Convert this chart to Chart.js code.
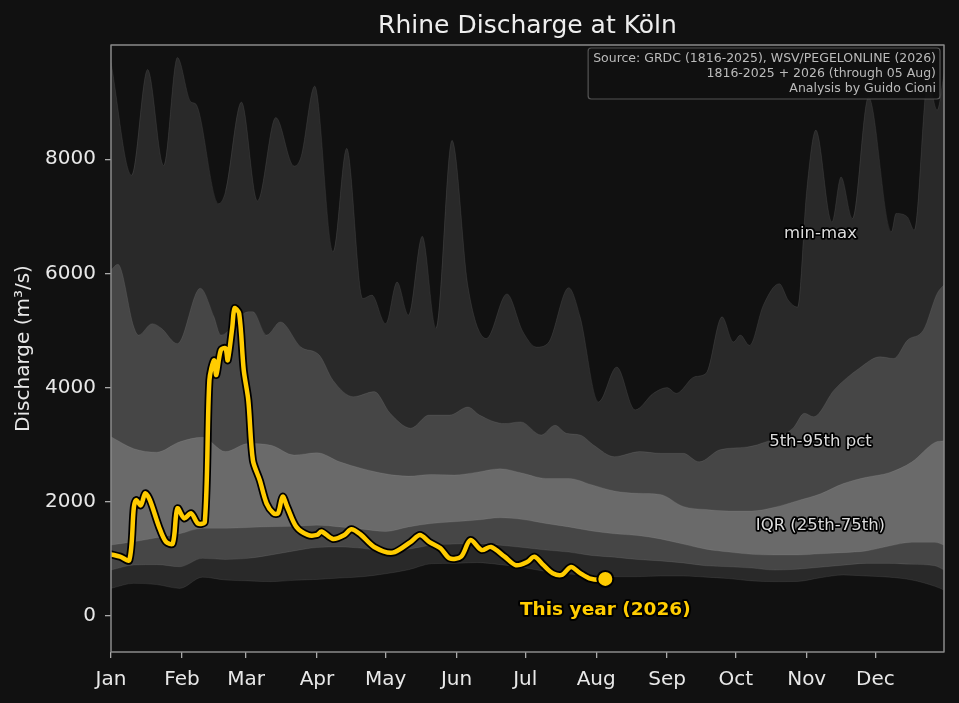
<!DOCTYPE html>
<html>
<head>
<meta charset="utf-8">
<title>Rhine Discharge at Köln</title>
<script src="https://cdn.jsdelivr.net/npm/chart.js@4.4.1/dist/chart.umd.min.js"></script>
<style>
    html, body { margin: 0; padding: 0; background: #111111; }
    #wrap { width: 959px; height: 703px; }
</style>
</head>
<body>
<div id="wrap"><canvas id="chart" width="959" height="703"></canvas></div>
<script>
(function () {
    'use strict';

    // Day of year for the smooth percentile bands
    var bandDays = [1, 11, 21, 31, 41, 51, 61, 71, 81, 91, 101, 111, 121, 131, 141, 151, 161, 171, 181, 191,
        201, 211, 221, 231, 241, 251, 261, 271, 281, 291, 301, 311, 321, 331, 341, 351, 361, 365];
    var p75Vals = [3140, 2930, 2870, 3050, 3130, 2880, 3020, 2990, 2820, 2860, 2700, 2580, 2490, 2450, 2480, 2470, 2520, 2580, 2500, 2410,
        2410, 2300, 2190, 2150, 2130, 1920, 1865, 1840, 1840, 1905, 2020, 2140, 2320, 2430, 2510, 2700, 3040, 3070];
    var p25Vals = [1243, 1300, 1370, 1440, 1535, 1535, 1550, 1564, 1570, 1590, 1560, 1520, 1480, 1560, 1620, 1650, 1680, 1720, 1690, 1620,
        1560, 1490, 1440, 1410, 1350, 1260, 1170, 1120, 1080, 1068, 1068, 1090, 1110, 1140, 1225, 1290, 1290, 1243];
    var p5Vals = [805, 893, 900, 863, 1010, 990, 1010, 1070, 1140, 1200, 1210, 1185, 1126, 1170, 1240, 1260, 1272, 1240, 1200, 1155,
        1120, 1060, 1030, 990, 965, 930, 880, 863, 840, 805, 820, 855, 890, 922, 922, 905, 880, 805];
    var minVals = [484, 572, 550, 484, 680, 630, 615, 601, 625, 640, 665, 688, 740, 810, 915, 922, 935, 900, 850, 780,
        735, 710, 688, 688, 700, 700, 680, 655, 615, 601, 605, 670, 718, 700, 680, 630, 520, 455];

    // 95th percentile (spikier, own sampling)
    var p95Days = [1, 4, 11, 13, 19, 23, 30, 40, 46, 49, 61, 63, 69, 75, 84, 92, 98, 107, 116, 123,
        132, 140, 149, 157, 162, 173, 180, 189, 195, 200, 206, 212, 221, 232, 241, 251, 258, 267, 279, 285,
        299, 304, 308, 317, 328, 337, 343, 349, 356, 362, 365];
    var p95Vals = [6060, 6160, 5060, 4920, 5120, 5040, 4770, 5740, 5240, 4920, 5330, 5330, 4920, 5150, 4710, 4570, 4130, 3840, 3930, 3550,
        3290, 3520, 3520, 3660, 3520, 3370, 3400, 3170, 3340, 3200, 3170, 2990, 2790, 2880, 2850, 2850, 2700, 2910, 2960, 3020,
        3290, 3550, 3490, 3960, 4340, 4540, 4510, 4830, 5010, 5650, 5800];

    // Daily maximum 1816-2025
    var maxDays = [1, 10, 17, 24, 30, 36, 38, 48, 51, 58, 65, 73, 81, 84, 90, 98, 104, 111, 115, 121,
        126, 131, 137, 143, 150, 157, 165, 174, 181, 187, 192, 201, 206, 214, 222, 230, 238, 244, 248, 256,
        261, 268, 273, 276, 280, 286, 293, 297, 301, 305, 309, 316, 320, 325, 332, 342, 344, 349, 352, 358,
        362, 365];
    var maxVals = [9700, 7720, 9570, 7890, 9780, 9000, 8970, 7220, 7430, 9000, 7270, 8730, 7880, 8040, 9280, 6380, 8190, 5560, 5620, 5120,
        5850, 5270, 6650, 5040, 8330, 5770, 4860, 5640, 4980, 4710, 4780, 5750, 5240, 3750, 4360, 3610, 3900, 4000, 3900, 4190,
        4250, 5240, 4800, 4920, 4740, 5440, 5820, 5530, 5410, 7460, 8510, 6900, 7690, 6960, 9090, 6730, 7050, 6990, 6760, 9400,
        8860, 9500];

    // This year (2026), through 05 Aug
    var yearDays = [1, 5, 9, 11, 12, 14, 16, 18, 22, 25, 28, 30, 33, 36, 39, 42, 44, 46, 47, 49,
        51, 52, 54, 55, 57, 59, 61, 63, 66, 69, 72, 74, 76, 78, 82, 87, 91, 93, 98, 103,
        106, 110, 116, 124, 132, 136, 140, 145, 149, 154, 158, 163, 167, 173, 178, 183, 186, 190, 194, 198,
        202, 206, 210, 215, 217];
    var yearVals = [1080, 1040, 980, 1910, 2030, 1940, 2150, 2030, 1560, 1300, 1270, 1885, 1710, 1800, 1620, 1650, 4130, 4480, 4220, 4660,
        4690, 4480, 5060, 5390, 5300, 4310, 3780, 2730, 2380, 1970, 1800, 1800, 2090, 1910, 1560, 1420, 1420, 1480, 1350, 1420,
        1520, 1430, 1210, 1110, 1300, 1420, 1300, 1185, 1010, 1040, 1330, 1155, 1210, 1040, 890, 950, 1040, 890, 750, 720,
        860, 750, 660, 630, 650];

    var monthDays = [1, 32, 60, 91, 121, 152, 182, 213, 244, 274, 305, 335];
    var monthLabels = ['Jan', 'Feb', 'Mar', 'Apr', 'May', 'Jun', 'Jul', 'Aug', 'Sep', 'Oct', 'Nov', 'Dec'];
    var yTicks = [0, 2000, 4000, 6000, 8000];

    var sourceLines = [
        'Source: GRDC (1816-2025), WSV/PEGELONLINE (2026)',
        '1816-2025 + 2026 (through 05 Aug)',
        'Analysis by Guido Cioni'
    ];
    // band annotations, placed in data units
    var bandLabels = [
        { text: 'min-max', day: 311, value: 6700 },
        { text: '5th-95th pct', day: 311, value: 3060 },
        { text: 'IQR (25th-75th)', day: 311, value: 1590 }
    ];

    var YELLOW = '#FFCC00';
    var TEXT = '#e8e8e8';
    var FONT = "'DejaVu Sans', sans-serif";

    function toXY(days, vals) {
        return days.map(function (d, i) { return { x: d, y: vals[i] }; });
    }

    function band(data, fill, bg, order) {
        return {
            data: data,
            fill: fill,
            backgroundColor: bg,
            borderColor: 'rgba(255, 255, 255, 0.07)',
            borderWidth: 1,
            pointRadius: 0,
            cubicInterpolationMode: 'monotone',
            order: order,
        };
    }

    var lastDay = yearDays[yearDays.length - 1];
    var lastVal = yearVals[yearVals.length - 1];

    // Title, annotations, frame and source box
    var decorPlugin = {
        id: 'decor',
        afterDatasetsDraw: function (chart) {
            var ctx = chart.ctx;
            var area = chart.chartArea;
            var xs = chart.scales.x;
            var ys = chart.scales.y;

            ctx.save();
            ctx.lineJoin = 'round';
            ctx.textAlign = 'center';
            ctx.textBaseline = 'middle';

            // band labels
            ctx.font = '16.5px ' + FONT;
            ctx.lineWidth = 3.5;
            ctx.strokeStyle = '#000';
            ctx.fillStyle = '#dddddd';
            bandLabels.forEach(function (b) {
                var px = xs.getPixelForValue(b.day);
                var py = ys.getPixelForValue(b.value);
                ctx.strokeText(b.text, px, py);
                ctx.fillText(b.text, px, py);
            });

            // this-year label under the last point
            ctx.font = 'bold 18.5px ' + FONT;
            ctx.lineWidth = 4;
            var lx = xs.getPixelForValue(lastDay);
            var ly = ys.getPixelForValue(lastVal) + 31;
            ctx.strokeText('This year (2026)', lx, ly);
            ctx.fillStyle = YELLOW;
            ctx.fillText('This year (2026)', lx, ly);

            // axes frame
            ctx.strokeStyle = '#8a8a8a';
            ctx.lineWidth = 1.5;
            ctx.strokeRect(area.left, area.top, area.right - area.left, area.bottom - area.top);

            // source box
            ctx.font = '12.5px ' + FONT;
            var w = 0;
            sourceLines.forEach(function (s) { w = Math.max(w, ctx.measureText(s).width); });
            var right = area.right - 4;
            var top = area.top + 3;
            var boxW = w + 9;
            var boxH = sourceLines.length * 15 + 6;
            ctx.beginPath();
            ctx.roundRect(right - boxW, top, boxW, boxH, 3);
            ctx.fillStyle = 'rgba(17, 17, 17, 0.9)';
            ctx.fill();
            ctx.strokeStyle = '#555555';
            ctx.lineWidth = 1.2;
            ctx.stroke();
            ctx.fillStyle = '#bbbbbb';
            ctx.textAlign = 'right';
            sourceLines.forEach(function (s, i) {
                ctx.fillText(s, right - 4, top + 10.5 + i * 15);
            });

            // title centred over the plot area
            ctx.font = '25px ' + FONT;
            ctx.fillStyle = '#eeeeee';
            ctx.textAlign = 'center';
            ctx.fillText('Rhine Discharge at Köln', (area.left + area.right) / 2, 26);
            ctx.restore();
        }
    };

    Chart.defaults.font.family = FONT;

    new Chart(document.getElementById('chart'), {
        type: 'line',
        data: {
            datasets: [
                band(toXY(maxDays, maxVals), 1, '#292929', 9),
                band(toXY(bandDays, minVals), false, 'transparent', 8),
                band(toXY(p95Days, p95Vals), 3, '#464646', 7),
                band(toXY(bandDays, p5Vals), false, 'transparent', 6),
                band(toXY(bandDays, p75Vals), 5, '#6a6a6a', 5),
                band(toXY(bandDays, p25Vals), false, 'transparent', 4),
                {
                    data: toXY(yearDays, yearVals),
                    borderColor: '#000000',
                    borderWidth: 8,
                    borderJoinStyle: 'round',
                    borderCapStyle: 'round',
                    pointRadius: 0,
                    fill: false,
                    tension: 0.3,
                    order: 2,
                },
                {
                    data: toXY(yearDays, yearVals),
                    borderColor: YELLOW,
                    borderWidth: 4.5,
                    borderJoinStyle: 'round',
                    borderCapStyle: 'round',
                    pointRadius: 0,
                    fill: false,
                    tension: 0.3,
                    order: 1,
                },
                {
                    data: [{ x: lastDay, y: lastVal }],
                    showLine: false,
                    pointRadius: 8,
                    pointBackgroundColor: YELLOW,
                    pointBorderColor: '#000000',
                    pointBorderWidth: 2,
                    order: 0,
                },
            ],
        },
        options: {
            responsive: false,
            animation: false,
            layout: { padding: { top: 45, right: 15, left: 0, bottom: 0 } },
            plugins: {
                legend: { display: false },
                tooltip: { enabled: false },
                title: { display: false },
            },
            scales: {
                x: {
                    type: 'linear',
                    min: 1,
                    max: 365,
                    afterFit: function (s) { s.height = 51; },
                    afterBuildTicks: function (s) {
                        s.ticks = monthDays.map(function (d) { return { value: d }; });
                    },
                    ticks: {
                        autoSkip: false,
                        maxRotation: 0,
                        color: TEXT,
                        font: { size: 20 },
                        padding: 10,
                        callback: function (v, i) { return monthLabels[i]; },
                    },
                    grid: { drawOnChartArea: false, tickLength: 6, color: '#aaaaaa', lineWidth: 1.3 },
                    border: { display: false },
                },
                y: {
                    min: -630,
                    max: 10000,
                    afterFit: function (s) { s.width = 111; },
                    afterBuildTicks: function (s) {
                        s.ticks = yTicks.map(function (v) { return { value: v }; });
                    },
                    ticks: {
                        color: TEXT,
                        font: { size: 20 },
                        padding: 9,
                        callback: function (v) { return String(v); },
                    },
                    title: {
                        display: true,
                        text: 'Discharge (m³/s)',
                        color: TEXT,
                        font: { size: 20 },
                        padding: { top: 12, bottom: 0 },
                    },
                    grid: { drawOnChartArea: false, tickLength: 6, color: '#aaaaaa', lineWidth: 1.3 },
                    border: { display: false },
                },
            },
        },
        plugins: [decorPlugin],
    });
})();
</script>
</body>
</html>
